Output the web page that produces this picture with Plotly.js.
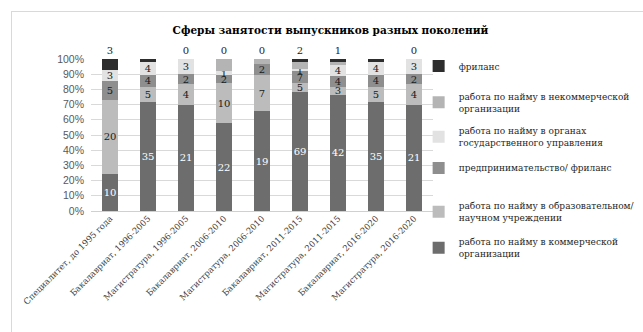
<!DOCTYPE html>
<html>
<head>
<meta charset="utf-8">
<script src="https://cdn.plot.ly/plotly-3.0.1.min.js"></script>
<style>
  html, body { margin: 0; padding: 0; background: #ffffff; }
  #wrap { position: relative; width: 643px; height: 332px; overflow: hidden; }
  #chart { position: absolute; left: 0; top: 0; width: 643px; height: 332px; }
  #frame { position: absolute; left: 11px; top: 11px; width: 640px; height: 330px;
           border-top: 1px solid #d9d9d9; border-left: 1px solid #d9d9d9; pointer-events: none; }
</style>
</head>
<body>
<div id="wrap"><div id="chart"></div><div id="frame"></div></div>
<script>
const categories = [
  "Специалитет, до 1995 года",
  "Бакалавриат, 1996-2005",
  "Магистратура, 1996-2005",
  "Бакалавриат, 2006-2010",
  "Магистратура, 2006-2010",
  "Бакалавриат, 2011-2015",
  "Магистратура, 2011-2015",
  "Бакалавриат, 2016-2020",
  "Магистратура, 2016-2020"
];
const commercial = [10, 35, 21, 22, 19, 69, 42, 35, 21];
const education  = [20, 5, 4, 10, 7, 5, 3, 5, 4];
const business   = [5, 4, 2, 2, 2, 7, 4, 4, 2];
const government = [3, 4, 3, 1, 0, 1, 4, 4, 3];
const nonprofit  = [0, 0, 0, 3, 1, 4, 1, 0, 0];
const freelance  = [3, 1, 0, 0, 0, 2, 1, 1, 0];

const seriesNames = [
  "работа по найму в коммерческой<br>организации",
  "работа по найму в образовательном/<br>научном учреждении",
  "предпринимательство/ фриланс",
  "работа по найму в органах<br>государственного управления",
  "работа по найму в некоммерческой<br>организации",
  "фриланс"
];

const serif = "DejaVu Serif";

function mk(vals, name, color, legendId, textColor, showText, pos) {
  return {
    type: "bar",
    x: categories,
    y: vals,
    name: name,
    legend: legendId,
    marker: { color: color, line: { width: 0 } },
    text: showText ? vals.map(String) : undefined,
    texttemplate: showText ? "%{text}" : undefined,
    textposition: showText ? pos : "none",
    insidetextanchor: "middle",
    textangle: 0,
    constraintext: "none",
    cliponaxis: false,
    textfont: { family: serif, size: 10, color: textColor },
    insidetextfont: { family: serif, size: 10, color: textColor },
    outsidetextfont: { family: serif, size: 10, color: textColor },
    hoverinfo: "skip"
  };
}

const traces = [
  mk(commercial, seriesNames[0], "#6d6d6d", "legend6", "#ffffff", true, "inside"),
  mk(education,  seriesNames[1], "#bcbcbc", "legend5", "#1a1a1a", true, "inside"),
  mk(business,   seriesNames[2], "#8e8e8e", "legend4", "#1a1a1a", true, "inside"),
  mk(government, seriesNames[3], "#e2e2e2", "legend3", "#1a1a1a", true, "inside"),
  mk(nonprofit,  seriesNames[4], "#b4b4b4", "legend2", "#1a1a1a", false, "none"),
  mk(freelance,  seriesNames[5], "#2d2d2d", "legend",  "#1a1a1a", true, "outside")
];

const legFont = { family: serif, size: 9, color: "#262626" };
function leg(y) {
  return { x: 0.958, y: y, xanchor: "left", yanchor: "middle", font: legFont,
           bgcolor: "rgba(0,0,0,0)", borderwidth: 0, itemwidth: 30, tracegroupgap: 0 };
}

const layout = {
  width: 643, height: 332,
  margin: { l: 91, r: 210, t: 59, b: 121, autoexpand: false },
  font: { family: serif },
  paper_bgcolor: "#ffffff",
  plot_bgcolor: "#ffffff",
  barmode: "stack",
  barnorm: "percent",
  bargap: 0.6,
  showlegend: true,
  uniformtext: { mode: "show", minsize: 10 },
  title: {
    text: "<b>Сферы занятости выпускников разных поколений</b>",
    font: { family: serif, size: 10.5, color: "#000000" },
    x: 0.70, xref: "paper", xanchor: "center",
    y: 0.91, yref: "container", yanchor: "middle"
  },
  xaxis: {
    type: "category",
    tickangle: -45,
    tickfont: { family: serif, size: 8.5, color: "#404040" },
    showgrid: false, showline: false, ticks: "", zeroline: false
  },
  yaxis: {
    range: [0, 100],
    dtick: 10,
    ticksuffix: "%",
    tickfont: { family: "Liberation Sans", size: 10.5, color: "#595959" },
    gridcolor: "#d9d9d9", gridwidth: 1,
    zeroline: true, zerolinecolor: "#d0d0d0", zerolinewidth: 1,
    showline: false, ticks: "", ticklabelstandoff: 6
  },
  legend:  leg(0.954),
  legend2: leg(0.714),
  legend3: leg(0.487),
  legend4: leg(0.283),
  legend5: leg(-0.007),
  legend6: leg(-0.243)
};

Plotly.newPlot("chart", traces, layout, { displayModeBar: false, staticPlot: true });
</script>
</body>
</html>
